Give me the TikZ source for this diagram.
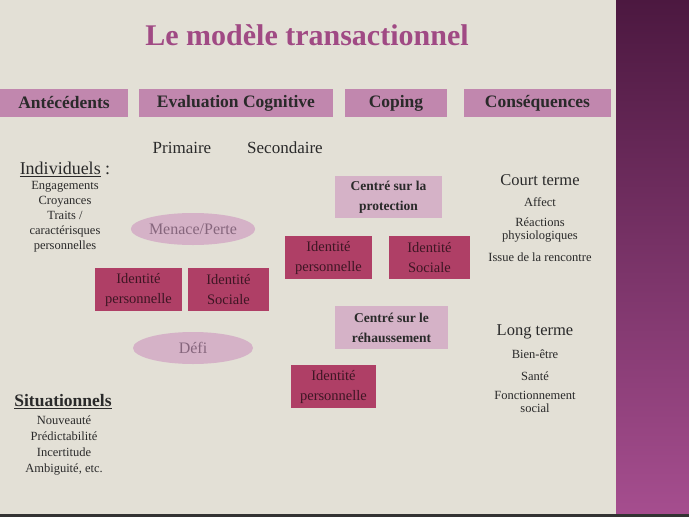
\documentclass[tikz,border=0pt]{standalone}
\usepackage{fontspec}
\setmainfont{Liberation Serif}
\usetikzlibrary{shapes.geometric}
\definecolor{bg}{HTML}{E3E0D6}
\definecolor{hdr}{HTML}{C187AE}
\definecolor{light}{HTML}{D5B2C7}
\definecolor{deep}{HTML}{AF3F66}
\definecolor{titlec}{HTML}{A04A84}
\definecolor{bandtop}{HTML}{4C1840}
\definecolor{bandbot}{HTML}{A64E8F}
\definecolor{txt}{HTML}{2A2A2A}
\definecolor{ovaltxt}{HTML}{86667D}
\definecolor{deeptxt}{HTML}{3E1624}
\newcommand{\fs}[2]{\fontsize{#1}{#2}\selectfont}
\tikzset{
  hdrbox/.style={fill=hdr, draw=none, inner sep=0pt, text=txt, font=\fs{17.5}{20}\bfseries},
  lightbox/.style={fill=light, draw=none, inner sep=0pt, align=center, text=txt, font=\fs{13.5}{20}\bfseries},
  deepbox/.style={fill=deep, draw=none, inner sep=0pt, align=center, text=deeptxt, font=\fs{14.5}{20}},
  oval/.style={ellipse, fill=light, draw=none, inner sep=0pt, text=ovaltxt, font=\fs{16}{19}},
  plain/.style={text=txt, inner sep=0pt, align=center},
}
\begin{document}
\begin{tikzpicture}[x=1pt,y=-1pt]
\useasboundingbox (0,0) rectangle (689,517);
\fill[bg] (0,0) rectangle (616,517);
\shade[top color=bandtop, bottom color=bandbot] (616,0) rectangle (689,517);
\fill[black!80] (0,514) rectangle (689,517);

\node[text=titlec, font=\fs{30}{36}\bfseries] (title) at (307,35) {Le modèle transactionnel};

\node[hdrbox, minimum width=128pt, minimum height=28pt] (h1) at (64,103) {Antécédents};
\node[hdrbox, minimum width=194pt, minimum height=28pt] (h2) at (236,103) {Evaluation Cognitive};
\node[hdrbox, minimum width=102pt, minimum height=28pt] (h3) at (396,103) {Coping};
\node[hdrbox, minimum width=147pt, minimum height=28pt] (h4) at (537.5,103) {Conséquences};

\node[plain, font=\fs{17}{20}] (prim) at (182,148) {Primaire};
\node[plain, font=\fs{17}{20}] (sec) at (285,148) {Secondaire};

\node[plain, font=\fs{18}{21}] (indiv) at (65,169) {\underline{Individuels} :};
\node[plain, font=\fs{12.5}{15}, align=center] (indlist) at (65,217)
  {Engagements\\ Croyances\\ Traits /\\ caractérisques\\ personnelles};

\node[oval, minimum width=120pt, minimum height=32pt] (menace) at (193,229) {Menace/Perte};
\node[oval, minimum width=120pt, minimum height=32pt] (defi) at (193,348) {Défi};

\node[deepbox, minimum width=87pt, minimum height=43pt] (ip1) at (138.5,289.5) {Identité\\personnelle};
\node[deepbox, minimum width=81pt, minimum height=43pt] (is1) at (228.5,289.5) {Identité\\Sociale};

\node[lightbox, minimum width=107pt, minimum height=42pt] (prot) at (388.5,197) {Centré sur la\\protection};
\node[deepbox, minimum width=87pt, minimum height=43pt] (ip2) at (328.5,257.5) {Identité\\personnelle};
\node[deepbox, minimum width=81pt, minimum height=43pt] (is2) at (429.5,257.5) {Identité\\Sociale};

\node[lightbox, minimum width=113pt, minimum height=43pt] (rehau) at (391.5,327.5) {Centré sur le\\réhaussement};
\node[deepbox, minimum width=85pt, minimum height=43pt] (ip3) at (333.5,386.5) {Identité\\personnelle};

\node[plain, font=\fs{17.5}{21}\bfseries] (situ) at (63,402) {\underline{Situationnels}};
\node[plain, font=\fs{12.5}{16}] (sitlist) at (64,445)
  {Nouveauté\\ Prédictabilité\\ Incertitude\\ Ambiguité, etc.};

\node[plain, font=\fs{16.5}{19}] (court) at (540,180) {Court terme};
\node[plain, font=\fs{12.5}{14}] (affect) at (540,202) {Affect};
\node[plain, font=\fs{12.5}{13.5}] (reac) at (540,230) {Réactions\\physiologiques};
\node[plain, font=\fs{12.5}{14}] (issue) at (540,257) {Issue de la rencontre};

\node[plain, font=\fs{16.5}{19}] (long) at (535,332) {Long terme};
\node[plain, font=\fs{12.5}{14}] (bien) at (535,354) {Bien-être};
\node[plain, font=\fs{12.5}{14}] (sante) at (535,376) {Santé};
\node[plain, font=\fs{12.5}{13.5}] (fonct) at (535,402) {Fonctionnement\\social};
\end{tikzpicture}
\end{document}
